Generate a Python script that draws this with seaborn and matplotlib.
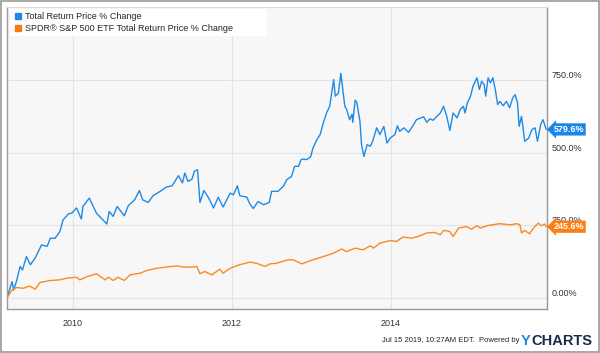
import numpy as np
import pandas as pd
import matplotlib
matplotlib.use("Agg")
import matplotlib.pyplot as plt
from matplotlib.patches import Rectangle
from matplotlib.lines import Line2D
import seaborn as sns

# decimal years, % change
fund_years = [2009.18, 2009.24, 2009.26, 2009.30, 2009.34, 2009.37, 2009.42, 2009.47, 2009.53, 2009.61,
              2009.68, 2009.72, 2009.78, 2009.84, 2009.88, 2009.95, 2009.99, 2010.05, 2010.11, 2010.13,
              2010.21, 2010.30, 2010.43, 2010.46, 2010.51, 2010.56, 2010.65, 2010.70, 2010.78, 2010.84,
              2010.88, 2010.95, 2011.01, 2011.10, 2011.18, 2011.25, 2011.33, 2011.38, 2011.41, 2011.45,
              2011.50, 2011.53, 2011.57, 2011.60, 2011.65, 2011.71, 2011.77, 2011.83, 2011.89, 2011.98,
              2012.02, 2012.07, 2012.10, 2012.19, 2012.22, 2012.27, 2012.33, 2012.40, 2012.47, 2012.50,
              2012.58, 2012.65, 2012.69, 2012.75, 2012.79, 2012.84, 2012.87, 2012.90, 2012.94, 2012.99,
              2013.02, 2013.07, 2013.11, 2013.15, 2013.19, 2013.23, 2013.28, 2013.30, 2013.34, 2013.37,
              2013.40, 2013.42, 2013.44, 2013.48, 2013.51, 2013.52, 2013.55, 2013.57, 2013.61, 2013.63,
              2013.66, 2013.70, 2013.74, 2013.77, 2013.82, 2013.86, 2013.91, 2013.95, 2013.99, 2014.05,
              2014.08, 2014.11, 2014.16, 2014.22, 2014.27, 2014.32, 2014.41, 2014.45, 2014.49, 2014.53,
              2014.57, 2014.62, 2014.66, 2014.70, 2014.74, 2014.78, 2014.83, 2014.87, 2014.91, 2014.93,
              2014.96, 2015.00, 2015.03, 2015.08, 2015.11, 2015.14, 2015.17, 2015.19, 2015.22, 2015.25,
              2015.28, 2015.31, 2015.34, 2015.37, 2015.41, 2015.45, 2015.49, 2015.53, 2015.56, 2015.59,
              2015.61, 2015.64, 2015.68, 2015.73, 2015.77, 2015.81, 2015.84, 2015.88, 2015.91, 2015.95]
fund_pct = [5, 57, 28, 63, 109, 97, 143, 115, 138, 183,
            178, 206, 206, 229, 269, 290, 292, 310, 272, 315,
            344, 292, 255, 298, 281, 315, 283, 318, 338, 370,
            338, 329, 352, 367, 382, 386, 421, 396, 430, 401,
            409, 436, 441, 329, 370, 344, 310, 347, 313, 361,
            355, 386, 352, 347, 327, 308, 332, 321, 329, 367,
            367, 385, 407, 418, 453, 453, 476, 478, 476, 485,
            516, 545, 562, 602, 636, 659, 751, 694, 705, 772,
            705, 659, 650, 613, 631, 604, 680, 673, 608, 527,
            487, 527, 522, 539, 585, 562, 590, 533, 550, 562,
            592, 573, 585, 570, 590, 613, 623, 604, 616, 611,
            623, 636, 659, 625, 576, 636, 619, 648, 659, 636,
            671, 694, 728, 757, 717, 745, 734, 694, 757, 740,
            757, 717, 665, 676, 661, 676, 654, 688, 699, 671,
            590, 625, 539, 550, 579, 585, 539, 596, 613, 579.6]

spy_years = [2009.18, 2009.24, 2009.30, 2009.38, 2009.46, 2009.53, 2009.59, 2009.72, 2009.84, 2009.93,
             2010.05, 2010.09, 2010.18, 2010.30, 2010.41, 2010.45, 2010.51, 2010.57, 2010.65, 2010.72,
             2010.85, 2010.93, 2011.06, 2011.18, 2011.31, 2011.39, 2011.50, 2011.56, 2011.60, 2011.66,
             2011.75, 2011.85, 2011.89, 2011.98, 2012.10, 2012.23, 2012.31, 2012.42, 2012.48, 2012.56,
             2012.71, 2012.77, 2012.88, 2013.02, 2013.15, 2013.28, 2013.38, 2013.44, 2013.55, 2013.65,
             2013.74, 2013.78, 2013.86, 2013.99, 2014.07, 2014.15, 2014.26, 2014.36, 2014.45, 2014.55,
             2014.62, 2014.66, 2014.74, 2014.78, 2014.85, 2014.95, 2015.01, 2015.08, 2015.12, 2015.22,
             2015.37, 2015.50, 2015.58, 2015.62, 2015.64, 2015.68, 2015.74, 2015.79, 2015.85, 2015.89,
             2015.93, 2015.95]
spy_pct = [3, 29, 37, 34, 42, 31, 54, 61, 63, 69,
           72, 63, 74, 84, 63, 72, 61, 72, 61, 80,
           86, 95, 103, 107, 111, 107, 107, 109, 84, 92,
           80, 100, 86, 103, 115, 124, 120, 109, 118, 120,
           132, 132, 118, 132, 143, 155, 169, 160, 172, 166,
           180, 172, 189, 198, 195, 210, 206, 214, 224, 226,
           218, 233, 229, 212, 241, 246, 237, 249, 241, 250,
           256, 252, 256, 252, 224, 233, 221, 241, 258, 249,
           255, 245.6]

series_names = ["Total Return Price % Change", "SPDR® S&P 500 ETF Total Return Price % Change"]
y_ticks = [0, 250, 500, 750]
y_tick_labels = ["0.00%", "250.0%", "500.0%", "750.0%"]
x_ticks = [2010, 2012, 2014]
x_tick_labels = ["2010", "2012", "2014"]

BLUE = "#1e8ae6"
ORANGE = "#fb8a22"

df = pd.concat([
    pd.DataFrame({"year": fund_years, "pct": fund_pct, "series": series_names[0]}),
    pd.DataFrame({"year": spy_years, "pct": spy_pct, "series": series_names[1]}),
])

sns.set_theme(style="whitegrid")
plt.rcParams['font.family'] = ['Liberation Sans', 'DejaVu Sans']

fig = plt.figure(figsize=(6.0, 3.53), dpi=100)
ax = fig.add_axes([7 / 600, 1 - 309 / 353, 540 / 600, 302 / 353])
ax.set_facecolor("#f7f7f7")

sns.lineplot(data=df, x="year", y="pct", hue="series", palette=[BLUE, ORANGE],
             linewidth=1.0, ax=ax, legend=False, sort=False, estimator=None)

ax.set_xlim(2009.176, 2015.96)
ax.set_ylim(-37, 1000)
ax.set_xticks(x_ticks)
ax.set_xticklabels(x_tick_labels)
ax.set_yticks(y_ticks)
ax.set_yticklabels(y_tick_labels)
ax.set_xlabel("")
ax.set_ylabel("")
ax.grid(True, color="#e3e3e3", linewidth=0.8)
ax.yaxis.tick_right()
ax.tick_params(axis="both", length=0, labelsize=6.5, colors="#333333")
ax.tick_params(axis="y", pad=3)
ax.tick_params(axis="x", pad=7)
for lbl in ax.get_yticklabels():
    lbl.set_verticalalignment("bottom")

for side in ["left", "right", "bottom"]:
    ax.spines[side].set_color("#999999")
    ax.spines[side].set_linewidth(1.0)
ax.spines["top"].set_color("#dddddd")
ax.spines["top"].set_linewidth(0.8)

# white legend panel (wider than the legend text, like the original)
ax.add_patch(Rectangle((3 / 540, 1 - 29 / 302), 257 / 540, 27 / 302, transform=ax.transAxes,
                       facecolor="white", edgecolor="none", zorder=4))
handles = [Line2D([], [], marker="s", linestyle="none", markersize=5, color=c) for c in (BLUE, "#f57a12")]
leg = ax.legend(handles, series_names, loc="upper left", bbox_to_anchor=(0.009, 0.995),
                fontsize=6.5, frameon=False, handlelength=0.6, handletextpad=0.5,
                borderpad=0.35, labelspacing=0.35, borderaxespad=0)
leg.set_zorder(5)

# last value badges
trans = ax.get_yaxis_transform()
for val, col in [(fund_pct[-1], "#1a86e8"), (spy_pct[-1], "#fb7f12")]:
    ax.text(1.012, val, f"{val:.1f}%", transform=trans, ha="left", va="center",
            fontsize=6.5, fontweight="bold", color="white", clip_on=False, zorder=6,
            bbox=dict(boxstyle="larrow,pad=0.18", fc=col, ec="none"))

# footer
fig.text(519 / 600, 1 - 341 / 353, "Jul 15 2019, 10:27AM EDT.  Powered by", ha="right", va="center",
         fontsize=5.5, color="#222222")
fig.text(521 / 600, 1 - 341 / 353, "Y", ha="left", va="center", fontsize=10.5,
         fontweight="bold", color="#1f8ae0")
fig.text(531 / 600, 1 - 341 / 353, "CHARTS", ha="left", va="center", fontsize=10.5,
         fontweight="bold", color="#1b2a48")

fig.patches.append(Rectangle((0.001, 0.002), 0.997, 0.995, transform=fig.transFigure,
                             fill=False, edgecolor="#999999", linewidth=1.2))

fig.savefig("out.png", dpi=100)
